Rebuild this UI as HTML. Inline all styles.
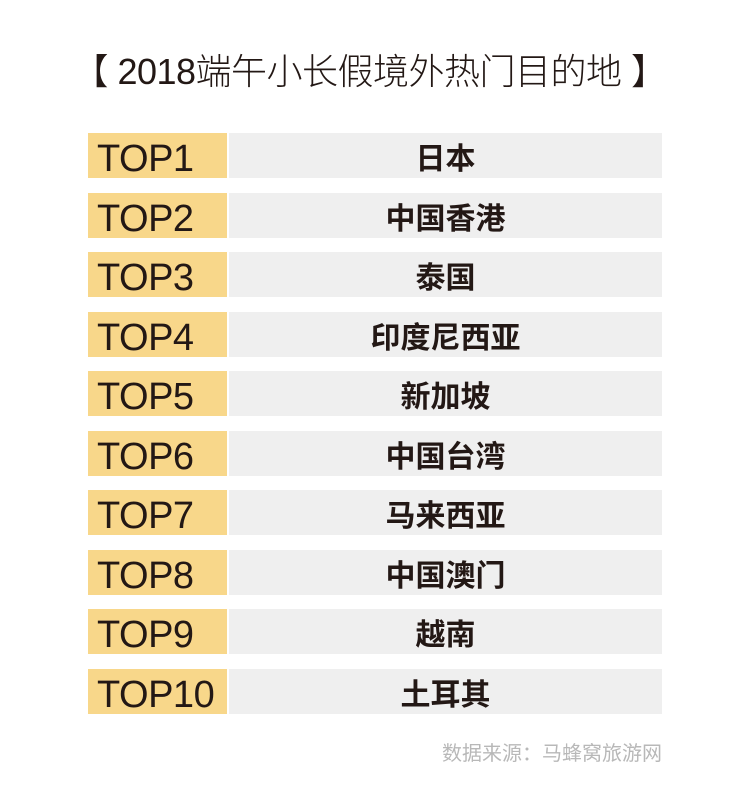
<!DOCTYPE html>
<html><head><meta charset="utf-8"><style>
body{margin:0;width:739px;height:803px;background:#fff;position:relative;overflow:hidden;font-family:"Liberation Sans","Noto Sans CJK SC",sans-serif;}
.t{position:absolute;left:0;width:739px;top:50px;text-align:center;font-size:36px;line-height:44px;color:#231815;font-weight:300;letter-spacing:-0.5px}
.r{position:absolute;left:88px;height:45px;width:574px}
.g{position:absolute;left:0;top:0;width:139px;height:45px;background:#f8d78a;font-size:38px;line-height:53px;color:#231815;text-indent:9px;letter-spacing:-0.5px}
.c{position:absolute;left:141px;top:0;width:433px;height:45px;background:#efefef;text-align:center;font-size:30px;line-height:53px;font-weight:bold;color:#231815}
.s{position:absolute;right:77px;top:737px;font-size:20px;color:#b8b8b8}
</style></head><body>
<div class="t">【 2018端午小长假境外热门目的地 】</div>
<div class="r" style="top:133px"><div class="g">TOP1</div><div class="c">日本</div></div>
<div class="r" style="top:192.5px"><div class="g">TOP2</div><div class="c">中国香港</div></div>
<div class="r" style="top:252px"><div class="g">TOP3</div><div class="c">泰国</div></div>
<div class="r" style="top:311.5px"><div class="g">TOP4</div><div class="c">印度尼西亚</div></div>
<div class="r" style="top:371px"><div class="g">TOP5</div><div class="c">新加坡</div></div>
<div class="r" style="top:430.5px"><div class="g">TOP6</div><div class="c">中国台湾</div></div>
<div class="r" style="top:490px"><div class="g">TOP7</div><div class="c">马来西亚</div></div>
<div class="r" style="top:549.5px"><div class="g">TOP8</div><div class="c">中国澳门</div></div>
<div class="r" style="top:609px"><div class="g">TOP9</div><div class="c">越南</div></div>
<div class="r" style="top:668.5px"><div class="g">TOP10</div><div class="c">土耳其</div></div>
<div class="s">数据来源：马蜂窝旅游网</div>
</body></html>
